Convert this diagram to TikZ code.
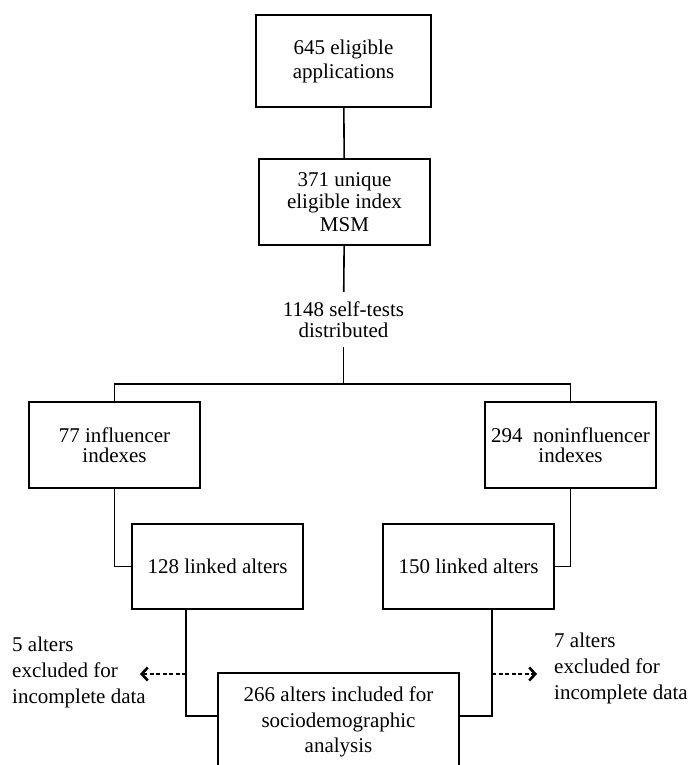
\documentclass[tikz,border=0pt]{standalone}
\usepackage{fontspec}
\setmainfont{Liberation Serif}
\usetikzlibrary{positioning, arrows.meta}

\begin{document}
\begin{tikzpicture}[
x=1pt, y=-1pt,
every node/.style={align=center, font=\fontsize{21}{21}\selectfont},
boxstyle/.style={draw, line width=1.6pt, minimum width=171pt, minimum height=86pt, inner sep=0pt},
link/.style={line width=1.6pt},
excluded/.style={line width=1.2pt, dash pattern=on 4pt off 2.5pt, -{Straight Barb[length=6pt, width=13pt, line width=2.6pt]}},
note/.style={align=left, anchor=west, inner sep=0pt, font=\fontsize{21}{26}\selectfont}
]
\useasboundingbox (0,0) rectangle (692,765);
% Index MSM
\node[boxstyle, minimum width=175pt, minimum height=92pt, font=\fontsize{21}{24}\selectfont] (apps) at (343.5,61) {645 eligible\\applications};
\node[boxstyle, font=\fontsize{21}{22.5}\selectfont] (unique) at (344.5,202) {371 unique\\eligible index\\MSM};
\node[minimum height=55pt, inner sep=0pt, font=\fontsize{21}{20.5}\selectfont] (selftests) at (343.5,319.5) {1148 self-tests\\distributed};
\coordinate (split) at (343.5,384);
\draw[link] (apps) -- (unique);
\draw[link] (unique) -- (selftests);
\draw[link] (selftests) -- (split);
% Influencer / noninfluencer
\node[boxstyle, font=\fontsize{21}{19.5}\selectfont] (infl) at (114.5,445) {77 influencer\\indexes};
\node[boxstyle, font=\fontsize{21}{19.5}\selectfont] (noninfl) at (570.5,445) {294~~noninfluencer\\indexes};
\draw[link] (infl.north) |- (split) -| (noninfl.north);
% Linked alters
\node[boxstyle, minimum height=85pt] (linked1) at (217.5,566.5) {128 linked alters};
\node[boxstyle, minimum height=85pt] (linked2) at (468.5,566.5) {150 linked alters};
\draw[link] (infl.south) |- (linked1.west);
\draw[link] (noninfl.south) |- (linked2.east);
% Included / excluded
\node[boxstyle, minimum width=241pt, minimum height=98pt, font=\fontsize{21}{25.5}\selectfont] (incl) at (338.5,722) {266 alters included for\\sociodemographic\\analysis};
\coordinate (lj) at (186,716);
\coordinate (rj) at (492,716);
\coordinate (ltip) at (140,674);
\coordinate (rtip) at (537,674);
\draw[link] (linked1.south -| lj) -- (lj) -- (lj -| incl.west);
\draw[link] (linked2.south -| rj) -- (rj) -- (rj -| incl.east);
\draw[excluded] (lj |- ltip) -- (ltip);
\draw[excluded] (rj |- rtip) -- (rtip);
\node[note] (excl1) at (12,672) {5 alters\\excluded for\\incomplete data};
\node[note] (excl2) at (554,668) {7 alters\\excluded for\\incomplete data};
\end{tikzpicture}
\end{document}
